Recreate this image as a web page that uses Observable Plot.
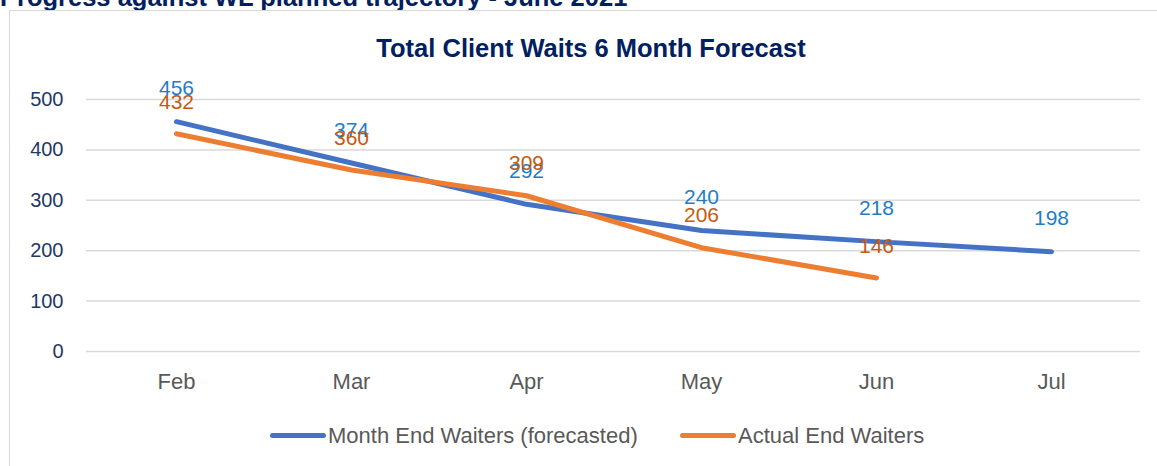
<!DOCTYPE html>
<html>
<head>
<meta charset="utf-8">
<script src="https://cdn.jsdelivr.net/npm/d3@7"></script>
<script src="https://cdn.jsdelivr.net/npm/@observablehq/plot@0.6"></script>
<style>
  html, body { margin: 0; padding: 0; background: #fff; }
  #wrap { position: relative; width: 1157px; height: 466px; overflow: hidden; font-family: "Liberation Sans Narrow", "Arial Narrow", "Liberation Sans", sans-serif; }
  #header { position: absolute; left: 0px; top: -16px; font: bold 25.5px/26px "Liberation Sans", Arial, sans-serif; color: #002060; white-space: nowrap; }
  #box { position: absolute; left: 9px; top: 10px; width: 1300px; height: 600px; border: 1.5px solid #d9d9d9; }
  #title { position: absolute; left: 0; width: 1182px; text-align: center; top: 33px; font: bold 25.5px/30px "Liberation Sans Narrow", "Arial Narrow", "Liberation Sans", sans-serif; color: #002060; white-space: nowrap; }
  #chart { position: absolute; left: 0; top: 0; }
  .leg { position: absolute; top: 422px; font: 22px/28px "Liberation Sans Narrow", "Arial Narrow", "Liberation Sans", sans-serif; color: #595959; white-space: nowrap; }
  .sw { position: absolute; top: 433px; height: 5px; border-radius: 3px; }
</style>
</head>
<body>
<div id="wrap">
  <div id="header">Progress against WL planned trajectory - June 2021</div>
  <div id="box"></div>
  <div id="chart"></div>
  <div id="title">Total Client Waits 6 Month Forecast</div>
  <div class="sw" style="left:270px;width:56px;background:#4472C4"></div>
  <div class="leg" style="left:328px">Month End Waiters (forecasted)</div>
  <div class="sw" style="left:680px;width:56px;background:#ED7D31"></div>
  <div class="leg" style="left:738px">Actual End Waiters</div>
</div>
<script>
const months = ["Feb", "Mar", "Apr", "May", "Jun", "Jul"];
const forecastValues = [456, 374, 292, 240, 218, 198];
const actualMonths = ["Feb", "Mar", "Apr", "May", "Jun"];
const actualValues = [432, 360, 309, 206, 146];
const yTicks = [0, 100, 200, 300, 400, 500];

const forecast = months.map((m, i) => ({month: m, value: forecastValues[i]}));
const actual = actualMonths.map((m, i) => ({month: m, value: actualValues[i]}));

const chart = Plot.plot({
  width: 1157,
  height: 466,
  marginLeft: 86,
  marginRight: 17,
  marginTop: 73.8,
  marginBottom: 115,
  style: { background: "transparent", overflow: "visible" },
  x: { type: "point", domain: months, padding: 0.5 },
  y: { domain: [0, 550] },
  marks: [
    Plot.ruleY(yTicks, { stroke: "#d9d9d9", strokeWidth: 1.5 }),
    Plot.axisY({ ticks: yTicks, tickSize: 0, tickPadding: 23, fontSize: 20, color: "#1F3864",
      fontFamily: "'Liberation Sans', Arial, sans-serif", label: null }),
    Plot.axisX({ tickSize: 0, tickPadding: 22, fontSize: 22, color: "#595959",
      fontFamily: "'Liberation Sans Narrow', 'Arial Narrow', 'Liberation Sans', sans-serif", label: null }),
    Plot.line(forecast, { x: "month", y: "value", stroke: "#4472C4", strokeWidth: 5, strokeLinecap: "round", strokeLinejoin: "round" }),
    Plot.line(actual, { x: "month", y: "value", stroke: "#ED7D31", strokeWidth: 5, strokeLinecap: "round", strokeLinejoin: "round" }),
    Plot.text(forecast, { x: "month", y: "value", text: "value", dy: -33, fill: "#1F7DC8", fontSize: 21,
      fontFamily: "'Liberation Sans', Arial, sans-serif" }),
    Plot.text(actual, { x: "month", y: "value", text: "value", dy: -32, fill: "#C55A11", fontSize: 21,
      fontFamily: "'Liberation Sans', Arial, sans-serif" })
  ]
});
document.getElementById("chart").appendChild(chart);
</script>
</body>
</html>
